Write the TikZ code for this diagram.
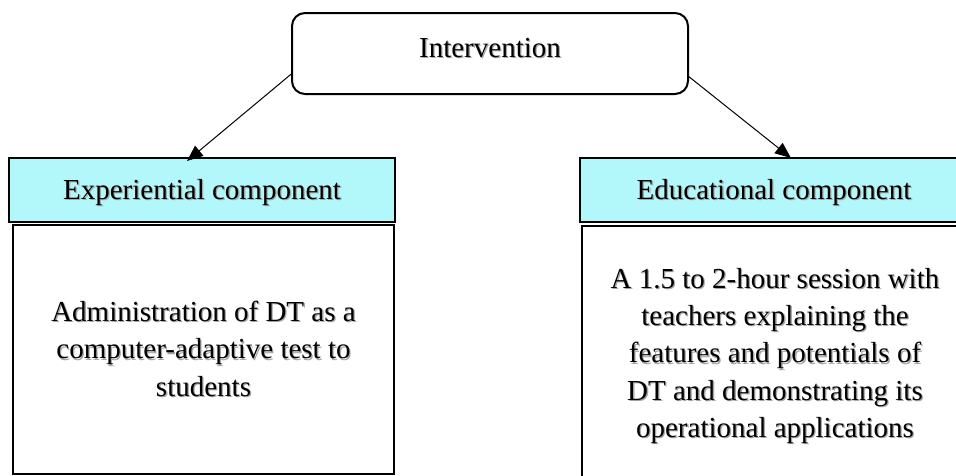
\documentclass[tikz,border=0pt]{standalone}
\usepackage{fontspec}
\setmainfont{Liberation Serif}
\usetikzlibrary{arrows.meta,calc}
\definecolor{headfill}{RGB}{178,247,250}
\newcommand\shd[1]{\makebox[0pt][l]{\hspace{1.3pt}\raisebox{-1.3pt}{\textcolor{black!35}{#1}}}#1}
\begin{document}
\begin{tikzpicture}[x=1pt,y=-1pt,
  every node/.style={font=\fontsize{29}{37.3}\selectfont, inner sep=0pt},
  topbox/.style={draw=black, line width=2pt, rounded corners=13pt, minimum width=396pt,
    text height=44pt, text depth=37pt, anchor=north},
  headbox/.style={draw=black, line width=2pt, fill=headfill, text height=41pt, text depth=23pt, anchor=north west},
  bodybox/.style={draw=black, line width=2pt, align=center, anchor=north west},
  arr/.style={line width=1pt, -{Triangle[length=16pt,width=13pt]}}]
\useasboundingbox (0,0) rectangle (956,475);
\node[topbox] (intv) at (490,12) {\shd{Intervention}};
\node[headbox, minimum width=386pt] (exp) at (8,157) {\shd{Experiential component}};
\node[headbox, minimum width=388pt] (edu) at (579,157) {\shd{Educational component}};
\node[bodybox, minimum width=381pt, minimum height=249pt] (expb) at (12,224)
  {\shd{Administration of DT as a}\\\shd{computer-adaptive test to}\\\shd{students}};
\node[bodybox, minimum width=386pt, minimum height=261pt] (edub) at (581,225)
  {\shd{A 1.5 to 2-hour session with}\\\shd{teachers explaining the}\\\shd{features and potentials of}\\\shd{DT and demonstrating its}\\\shd{operational applications}};
\draw[arr] ($(intv.south west)!0.25!(intv.north west)$) -- ([xshift=-15pt,yshift=-4pt]exp.north);
\draw[arr] ($(intv.south east)!0.22!(intv.north east)$) -- ([xshift=17pt,yshift=-1pt]edu.north);
\end{tikzpicture}
\end{document}
